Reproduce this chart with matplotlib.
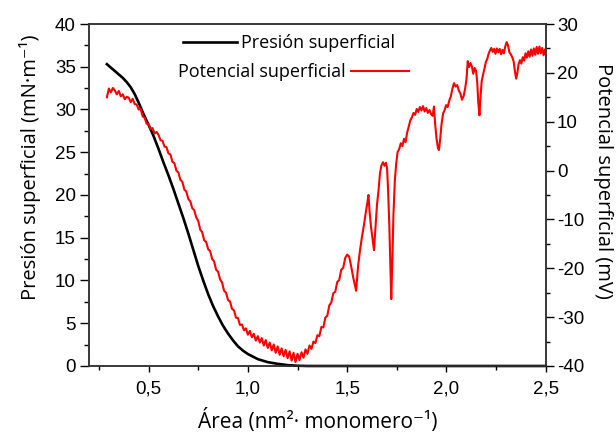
import matplotlib
matplotlib.use("Agg")
import matplotlib.pyplot as plt
from matplotlib.ticker import MultipleLocator

plt.rcParams['font.family'] = ['Open Sans', 'DejaVu Sans']
plt.rcParams['axes.unicode_minus'] = False

# Surface pressure isotherm (mN/m) versus molecular area
press_area = [0.29, 0.31, 0.33, 0.35, 0.37, 0.39, 0.41, 0.43, 0.45, 0.47,
              0.50, 0.525, 0.55, 0.575, 0.60, 0.625, 0.65, 0.675, 0.70, 0.725,
              0.75, 0.775, 0.80, 0.825, 0.85, 0.875, 0.90, 0.925, 0.95, 0.975,
              1.00, 1.05, 1.10, 1.15, 1.20, 1.25, 1.30, 2.50]
press_val = [35.3, 34.9, 34.5, 34.1, 33.7, 33.2, 32.6, 31.8, 30.8, 29.7,
             28.2, 26.9, 25.4, 23.8, 22.3, 20.7, 19.0, 17.3, 15.5, 13.6,
             11.7, 10.0, 8.4, 7.0, 5.8, 4.7, 3.8, 3.0, 2.3, 1.8,
             1.4, 0.8, 0.45, 0.25, 0.1, 0.03, 0.0, 0.0]

# Surface potential (mV) versus molecular area
pot_area = [0.29, 0.30, 0.31, 0.32, 0.33, 0.34, 0.35, 0.36, 0.37, 0.38,
            0.39, 0.40, 0.41, 0.42, 0.43, 0.44, 0.45, 0.46, 0.47, 0.48,
            0.49, 0.50, 0.51, 0.52, 0.53, 0.54, 0.55, 0.56, 0.57, 0.58,
            0.59, 0.60, 0.61, 0.62, 0.63, 0.64, 0.65, 0.66, 0.67, 0.68,
            0.69, 0.70, 0.71, 0.72, 0.73, 0.74, 0.75, 0.76, 0.77, 0.78,
            0.79, 0.80, 0.81, 0.82, 0.83, 0.84, 0.85, 0.86, 0.87, 0.88,
            0.89, 0.90, 0.91, 0.92, 0.93, 0.94, 0.95, 0.96, 0.97, 0.98,
            0.99, 1.00, 1.01, 1.02, 1.03, 1.04, 1.05, 1.06, 1.07, 1.08,
            1.09, 1.10, 1.11, 1.12, 1.13, 1.14, 1.15, 1.16, 1.17, 1.18,
            1.19, 1.20, 1.21, 1.22, 1.23, 1.24, 1.25, 1.26, 1.27, 1.28,
            1.29, 1.30, 1.31, 1.32, 1.33, 1.34, 1.35, 1.36, 1.37, 1.38,
            1.39, 1.40, 1.41, 1.42, 1.43, 1.44, 1.45, 1.46, 1.47, 1.48,
            1.49, 1.50, 1.51, 1.52, 1.53, 1.545, 1.555, 1.565, 1.575, 1.585,
            1.595, 1.602, 1.607, 1.613, 1.62, 1.628, 1.635, 1.642, 1.65, 1.658,
            1.665, 1.672, 1.68, 1.688, 1.695, 1.701, 1.706, 1.712, 1.717, 1.722,
            1.727, 1.733, 1.74, 1.747, 1.754, 1.762, 1.77, 1.778, 1.786, 1.794,
            1.802, 1.81, 1.818, 1.826, 1.834, 1.842, 1.85, 1.858, 1.866, 1.874,
            1.882, 1.89, 1.898, 1.906, 1.914, 1.922, 1.93, 1.937, 1.943, 1.95,
            1.957, 1.962, 1.968, 1.975, 1.983, 1.99, 1.998, 2.006, 2.014, 2.022,
            2.03, 2.038, 2.046, 2.054, 2.062, 2.07, 2.078, 2.086, 2.094, 2.101,
            2.107, 2.114, 2.121, 2.128, 2.135, 2.142, 2.149, 2.155, 2.16, 2.166,
            2.171, 2.177, 2.184, 2.191, 2.198, 2.205, 2.212, 2.219, 2.226, 2.233,
            2.24, 2.247, 2.254, 2.261, 2.268, 2.275, 2.282, 2.289, 2.296, 2.303,
            2.31, 2.317, 2.324, 2.331, 2.338, 2.345, 2.351, 2.357, 2.363, 2.37,
            2.377, 2.384, 2.391, 2.398, 2.405, 2.412, 2.419, 2.426, 2.433, 2.44,
            2.447, 2.454, 2.461, 2.468, 2.475, 2.482, 2.489, 2.496, 2.50]
pot_val = [15.0, 16.8, 16.0, 16.9, 16.4, 15.6, 16.3, 15.2, 15.6, 14.6,
           15.1, 14.9, 14.0, 14.7, 13.6, 13.5, 12.5, 12.6, 11.1, 10.8,
           9.6, 9.5, 8.5, 8.7, 7.6, 7.9, 7.3, 6.2, 6.1, 4.9,
           4.8, 3.5, 3.3, 1.8, 1.5, 0.0, -0.4, -1.9, -2.3, -3.9,
           -4.3, -5.8, -6.3, -7.7, -8.1, -9.6, -10.3, -12.1, -12.6, -14.3,
           -14.6, -16.1, -16.5, -18.1, -18.6, -20.3, -20.7, -22.3, -22.9, -24.6,
           -25.0, -26.5, -26.8, -28.3, -28.6, -30.1, -30.2, -31.6, -31.5, -32.7,
           -32.3, -33.6, -32.8, -34.1, -33.4, -34.8, -33.9, -35.2, -34.3, -35.8,
           -34.7, -36.3, -35.2, -36.8, -35.6, -37.3, -36.0, -37.7, -36.4, -38.0,
           -36.7, -38.4, -37.0, -38.9, -37.3, -39.2, -37.5, -38.8, -37.2, -38.3,
           -36.6, -37.5, -35.8, -36.5, -35.0, -35.3, -33.7, -33.9, -32.0, -32.1,
           -30.1, -29.7, -27.6, -27.0, -25.1, -24.8, -22.8, -22.4, -20.3, -19.9,
           -17.9, -17.2, -17.6, -19.6, -21.8, -24.6, -19.5, -16.2, -13.4, -11.0,
           -8.2, -6.5, -5.0, -8.5, -11.5, -14.0, -16.3, -12.0, -7.0, -4.0,
           -0.6, 1.0, 1.7, 1.0, 1.6, 0.4, -4.0, -11.0, -19.0, -26.3,
           -19.0, -9.0, -2.0, 1.5, 3.8, 4.4, 5.6, 5.0, 6.5, 5.8,
           7.8, 9.0, 10.3, 10.9, 11.8, 11.4, 12.6, 12.0, 13.0, 12.3,
           13.2, 12.1, 12.8, 11.8, 12.4, 11.6, 11.2, 13.1, 9.5, 6.5,
           4.6, 4.2, 6.3, 9.5, 11.7, 12.3, 13.4, 13.0, 14.3, 15.2,
           16.8, 17.9, 17.2, 17.5, 16.4, 15.8, 14.5, 15.2, 16.8, 18.8,
           22.4, 21.2, 22.0, 21.3, 19.8, 21.0, 20.4, 18.0, 14.0, 11.3,
           14.8, 18.2, 19.6, 20.8, 22.2, 22.8, 23.9, 24.6, 25.1, 24.3,
           24.9, 23.9, 25.0, 24.2, 24.9, 23.8, 24.7, 24.0, 25.4, 26.3,
           25.6, 24.2, 23.8, 23.2, 22.4, 20.2, 18.8, 20.0, 21.8, 22.6,
           21.9, 23.2, 22.5, 24.0, 23.1, 24.4, 23.3, 24.8, 23.5, 25.0,
           23.7, 25.3, 23.9, 25.4, 24.0, 25.1, 23.6, 24.8, 23.9]

x_ticks = [0.5, 1.0, 1.5, 2.0, 2.5]
x_tick_labels = ['0,5', '1,0', '1,5', '2,0', '2,5']

fig = plt.figure(figsize=(6.16, 4.38), dpi=100)
ax = fig.add_axes([0.1445, 0.1644, 0.7415, 0.7808])
ax2 = ax.twinx()

l1, = ax.plot(press_area, press_val, color='black', lw=1.9, clip_on=False, zorder=3)
l2, = ax2.plot(pot_area, pot_val, color='#ff0000', lw=1.5)

ax.set_xlim(0.2, 2.5)
ax.set_ylim(0, 40)
ax2.set_ylim(-40, 30)

ax.set_xticks(x_ticks)
ax.set_xticklabels(x_tick_labels)
ax.xaxis.set_minor_locator(MultipleLocator(0.25))
ax.yaxis.set_major_locator(MultipleLocator(5))
ax.yaxis.set_minor_locator(MultipleLocator(2.5))
ax2.yaxis.set_major_locator(MultipleLocator(10))
ax2.yaxis.set_minor_locator(MultipleLocator(5))

for lab in ax.get_xticklabels() + ax.get_yticklabels() + ax2.get_yticklabels():
    lab.set_fontfamily('Liberation Sans')
    lab.set_fontsize(13.5)

ax.tick_params(axis='y', which='major', direction='out', length=6.5, width=1.0, pad=3)
ax.tick_params(axis='y', which='minor', direction='out', length=3.5, width=1.0)
ax.tick_params(axis='x', which='major', direction='out', length=4.5, width=1.0, pad=6)
ax.tick_params(axis='x', which='minor', direction='out', length=3.0, width=1.0)
ax2.tick_params(axis='y', which='major', direction='out', length=6.0, width=1.0, pad=2)
ax2.tick_params(axis='y', which='minor', direction='out', length=3.0, width=1.0)

for a in (ax, ax2):
    for s in a.spines.values():
        s.set_linewidth(1.1)
        s.set_color('#333333')

ax.set_xlabel('Área (nm²· monomero⁻¹)', fontsize=15, labelpad=8)
ax.set_ylabel('Presión superficial (mN·m⁻¹)', fontsize=14.5, labelpad=10)
ax.yaxis.label.set_y(0.58)
ax2.set_ylabel('Potencial superficial (mV)', fontsize=14.5, rotation=270, labelpad=21)
ax2.yaxis.label.set_y(0.54)

ax.legend([l1], ['Presión superficial'], loc='center left',
          bbox_to_anchor=(0.206, 0.944), frameon=False, fontsize=13,
          handlelength=3.0, handletextpad=0.2, borderpad=0, borderaxespad=0)
ax2.legend([l2], ['Potencial superficial'], loc='center left',
           bbox_to_anchor=(0.195, 0.86), frameon=False, fontsize=13,
           handlelength=3.2, handletextpad=0.3, borderpad=0, borderaxespad=0,
           markerfirst=False)

fig.savefig('out.png', dpi=100)
